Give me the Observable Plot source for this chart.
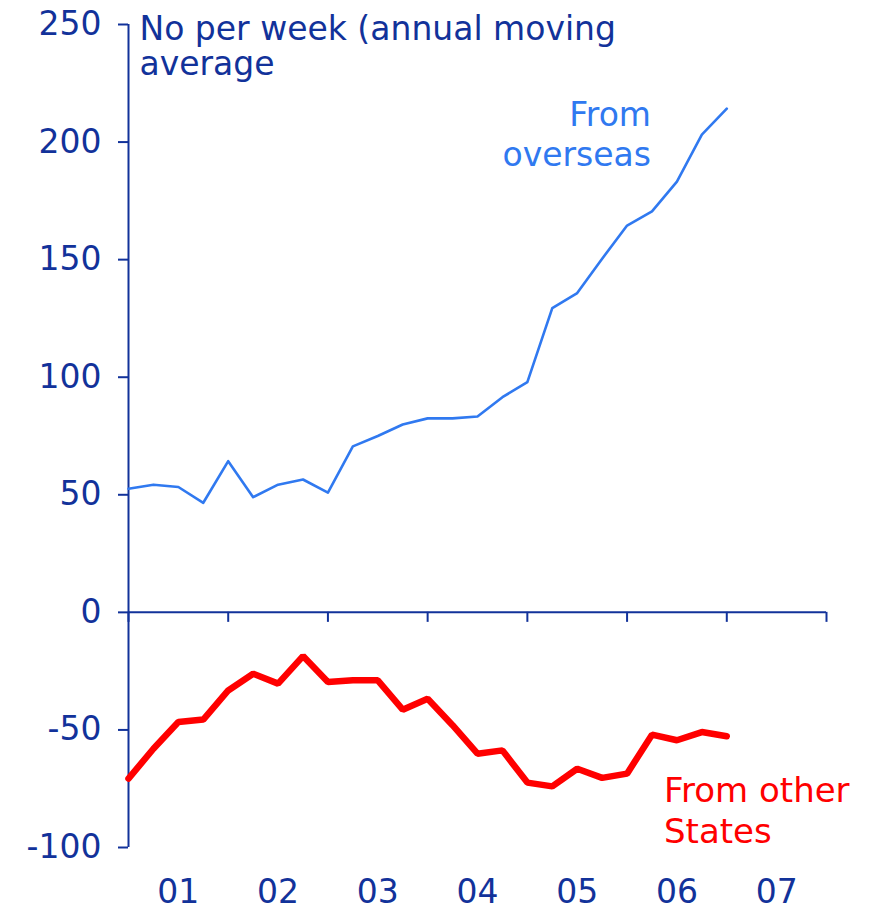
<!DOCTYPE html>
<html><head><meta charset="utf-8">
<script src="https://cdn.jsdelivr.net/npm/d3@7"></script>
<script src="https://cdn.jsdelivr.net/npm/@observablehq/plot@0.6"></script>
<style>body{margin:0;background:#fff}</style>
</head><body><div id="chart"></div>
<script>
// Quarterly time points (decimal years)
const quarters = [2001, 2001.25, 2001.5, 2001.75, 2002, 2002.25, 2002.5, 2002.75,
  2003, 2003.25, 2003.5, 2003.75, 2004, 2004.25, 2004.5, 2004.75,
  2005, 2005.25, 2005.5, 2005.75, 2006, 2006.25, 2006.5, 2006.75, 2007];
// Net migration, number per week (annual moving average)
const fromOverseas = [52.6, 54.3, 53.3, 46.6, 64.3, 49.0, 54.3, 56.5, 50.9, 70.6, 75.0, 79.9,
  82.5, 82.5, 83.3, 91.5, 97.9, 129.4, 135.8, 150.4, 164.5, 170.5, 183.2, 203.2, 214.2];
const fromOtherStates = [-70.7, -58.0, -46.6, -45.6, -33.2, -26.1, -30.3, -18.6, -29.6, -28.9, -28.9, -41.4,
  -36.7, -48.0, -60.1, -58.7, -72.4, -74.0, -66.5, -70.4, -68.6, -52.0, -54.4, -50.9, -52.7];
const yearTicks = [2001, 2002, 2003, 2004, 2005, 2006, 2007, 2008];
const yearLabels = ["01", "02", "03", "04", "05", "06", "07"];
const yTicks = [-100, -50, 0, 50, 100, 150, 200, 250];

const axisColor = "#12329a";
const blue = "#3079f0";
const red = "#ff0000";

const overseas = quarters.map((q, i) => ({q, v: fromOverseas[i]}));
const states = quarters.map((q, i) => ({q, v: fromOtherStates[i]}));
const labelData = yearLabels.map((t, i) => ({x: yearTicks[i] + 0.5, t}));

const chart = Plot.plot({
  width: 869,
  height: 914,
  marginLeft: 128,
  marginRight: 43,
  marginTop: 24,
  marginBottom: 67,
  style: {fontFamily: "DejaVu Sans", fontSize: "33px", color: axisColor, background: "#fff"},
  x: {type: "linear", domain: [2001, 2008]},
  y: {domain: [-100, 250]},
  marks: [
    Plot.axisY({ticks: yTicks, tickFormat: d => String(d), tickSize: 10, tickPadding: 17, label: null,
      stroke: axisColor, strokeWidth: 2, fill: axisColor, fontSize: 33}),
    Plot.axisX({ticks: labelData.map(d => d.x), tickFormat: (d) => labelData.find(l => l.x === d).t,
      tickSize: 0, tickPadding: 32, label: null, fill: axisColor, fontSize: 33}),
    Plot.ruleX([2001], {stroke: axisColor, strokeWidth: 2}),
    Plot.ruleY([0], {stroke: axisColor, strokeWidth: 2}),
    Plot.ruleX(yearTicks, {x: d => d, y1: 0, y2: 0, insetBottom: -10, stroke: axisColor, strokeWidth: 2}),
    Plot.line(overseas, {x: "q", y: "v", stroke: blue, strokeWidth: 2.6}),
    Plot.line(states, {x: "q", y: "v", stroke: red, strokeWidth: 6.5, strokeLinejoin: "miter"}),
    Plot.text(["No per week (annual moving\naverage"], {x: 2001, y: 250, text: d => d,
      textAnchor: "start", lineAnchor: "top", dx: 11, dy: -10, lineHeight: 1.07,
      fill: axisColor, fontSize: 33}),
    Plot.text(["From\noverseas"], {x: 2006.24, y: 219, text: d => d,
      textAnchor: "end", lineAnchor: "top", lineHeight: 1.22, fill: blue, fontSize: 33}),
    Plot.text(["From other\nStates"], {x: 2006.37, y: -68.5, text: d => d,
      textAnchor: "start", lineAnchor: "top", lineHeight: 1.2, fill: red, fontSize: 34})
  ]
});
document.getElementById("chart").appendChild(chart);
</script>
</body></html>
